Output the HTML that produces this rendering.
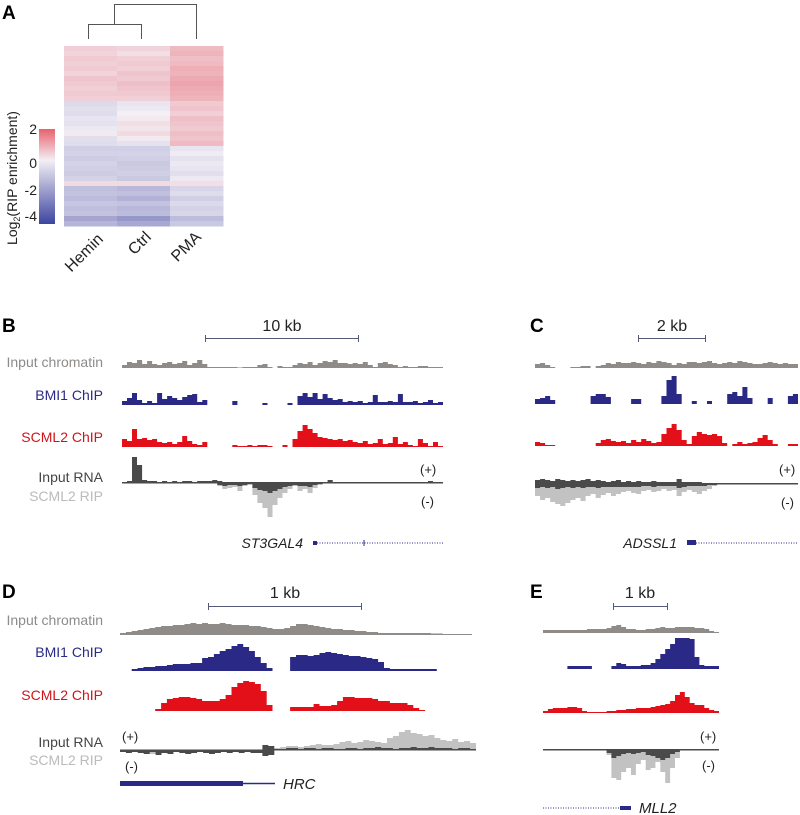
<!DOCTYPE html>
<html><head><meta charset="utf-8">
<style>
body{margin:0;background:#fff;}
svg{display:block;font-family:"Liberation Sans",Arial,sans-serif;}
</style></head>
<body>
<svg id="fig" width="800" height="815" viewBox="0 0 800 815">
<defs>
<linearGradient id="cbar" x1="0" y1="0" x2="0" y2="1">
<stop offset="0" stop-color="#e8616c"/><stop offset="0.33" stop-color="#f3eff5"/><stop offset="1" stop-color="#3d44a0"/>
</linearGradient>
</defs>
<g id="panelA">
<text x="2" y="19" font-size="19" font-weight="bold">A</text>
<g stroke="#555" stroke-width="1" fill="none">
<path d="M88.5 39 V24.5 H141.5 V39"/><path d="M114.5 24.5 V4.5 H196.5 V39"/>
</g>
<g id="heat"></g>
<rect x="39" y="129" width="16" height="95" fill="url(#cbar)"/>
<g font-size="14" fill="#222" text-anchor="end">
<text x="37" y="134">2</text><text x="37" y="168">0</text><text x="37" y="195">-2</text><text x="37" y="221">-4</text>
</g>
<text transform="translate(17,178) rotate(-90)" font-size="14" text-anchor="middle" fill="#222">Log<tspan font-size="9" dy="3">2</tspan><tspan dy="-3">(RIP enrichment)</tspan></text>
<g font-size="16" fill="#222" text-anchor="end">
<text transform="translate(104,240) rotate(-45)">Hemin</text>
<text transform="translate(152,238) rotate(-45)">Ctrl</text>
<text transform="translate(202,238) rotate(-45)">PMA</text>
</g>
</g>
<g id="tracks"></g>
<g font-size="19" font-weight="bold">
<text x="2" y="332">B</text><text x="530" y="332">C</text><text x="2" y="598">D</text><text x="530" y="598">E</text>
</g>
<g font-size="14" text-anchor="end">
<text x="103" y="367" fill="#8e8b89">Input chromatin</text>
<text x="103" y="400" fill="#2a2a86">BMI1 ChIP</text>
<text x="103" y="442" fill="#d0141c">SCML2 ChIP</text>
<text x="103" y="482" fill="#444">Input RNA</text>
<text x="103" y="501" fill="#bbb">SCML2 RIP</text>
</g>
<g font-size="14" text-anchor="end">
<text x="103" y="625" fill="#8e8b89">Input chromatin</text>
<text x="103" y="657" fill="#2a2a86">BMI1 ChIP</text>
<text x="103" y="700" fill="#d0141c">SCML2 ChIP</text>
<text x="103" y="747" fill="#444">Input RNA</text>
<text x="103" y="765" fill="#bbb">SCML2 RIP</text>
</g>
<g stroke="#555a7a" stroke-width="1">
<path d="M205 338.5H359M205.5 335v7M358.5 335v7"/>
<path d="M638 338.5H706M638.5 335v7M705.5 335v7"/>
<path d="M208 606.5H362M208.5 603v7M361.5 603v7"/>
<path d="M613 606.5H668M613.5 603v7M667.5 603v7"/>
</g>
<g font-size="16" text-anchor="middle" fill="#222">
<text x="282" y="331">10 kb</text><text x="672" y="331">2 kb</text><text x="285" y="598">1 kb</text><text x="640" y="598">1 kb</text>
</g>
<g font-size="13" fill="#222">
<text x="420" y="474">(+)</text><text x="421" y="506">(-)</text>
<text x="779" y="474">(+)</text><text x="781" y="507">(-)</text>
<text x="122" y="741">(+)</text><text x="125" y="771">(-)</text>
<text x="700" y="741">(+)</text><text x="702" y="770">(-)</text>
</g>
<g>
<text x="303" y="548" font-size="14" font-style="italic" text-anchor="end" fill="#222">ST3GAL4</text>
<rect x="313" y="541" width="4" height="4" fill="#2a2a86"/>
<line x1="317" y1="543" x2="443" y2="543" stroke="#2a2a86" stroke-width="1" stroke-dasharray="1,1.5"/>
<line x1="364" y1="540" x2="364" y2="546" stroke="#2a2a86"/>
<text x="677" y="548" font-size="14" font-style="italic" text-anchor="end" fill="#222">ADSSL1</text>
<rect x="687" y="540" width="9" height="5" fill="#2a2a86"/>
<line x1="696" y1="543" x2="798" y2="543" stroke="#2a2a86" stroke-width="1" stroke-dasharray="1,1.5"/>
<rect x="120" y="781" width="123" height="5" fill="#2a2a86"/>
<line x1="243" y1="783.5" x2="275" y2="783.5" stroke="#2a2a86" stroke-width="1.5"/>
<text x="283" y="789" font-size="15" font-style="italic" fill="#222">HRC</text>
<line x1="543" y1="808" x2="620" y2="808" stroke="#2a2a86" stroke-width="1" stroke-dasharray="1,1.5"/>
<rect x="620" y="806" width="11" height="4" fill="#2a2a86"/>
<text x="639" y="813" font-size="15" font-style="italic" fill="#222">MLL2</text>
</g>
</svg>
<script>
// ---- Heatmap data (log2 RIP enrichment, 36 rows) ----
const heatColumns = ["Hemin","Ctrl","PMA"];
const hemin = [0.6,0.5,0.7,0.6,0.7,0.5,0.8,0.7,0.6,0.7,0.6,-0.7,-0.5,-0.6,-0.3,-0.4,-0.2,0.1,-0.5,-0.6,-1.0,-0.9,-1.1,-0.9,-1.0,-1.1,-0.9,0.4,-1.5,-1.4,-1.6,-1.3,-1.5,-1.4,-2.3,-1.8];
const ctrl  = [0.5,0.3,0.6,0.7,0.6,0.8,0.7,0.9,0.8,0.7,0.6,-0.3,-0.2,0.0,0.1,0.3,0.2,0.4,0.1,-0.4,-1.0,-0.9,-1.0,-1.2,-1.1,-1.0,-1.2,0.4,-1.7,-1.5,-1.9,-1.4,-1.7,-1.6,-2.7,-2.2];
const pma   = [1.0,1.1,0.9,1.0,1.2,1.1,1.3,1.4,1.3,1.2,1.1,0.7,0.8,0.6,0.9,0.8,0.7,0.9,0.8,1.0,-0.3,-0.1,-0.4,-0.2,-0.3,-0.5,-0.2,0.3,-0.8,-0.6,-1.0,-0.7,-0.9,-0.8,-1.6,-1.2];

// ---- Panel B (64 bins) ----
const bInput = [3,6,5,8,4,7,4,3,5,6,4,5,7,3,5,8,4,1,1,1,1,1,1,0.5,1,1,1,3,4,1,null,2,1,1,3,5,4,6,3,5,7,6,8,5,5,4,5,4,6,3,1,5,6,4,3,1,2,1,1,2,2,1,1,1];
const bBmi1 = [4,7,12,5,2,4,2,12,6,9,7,5,8,10,11,3,5,null,null,null,null,null,4,null,null,null,null,null,2,null,null,null,null,2,null,9,12,8,12,6,11,7,5,6,3,4,3,4,2,3,10,3,3,4,3,11,3,3,4,2,3,5,2,3];
const bScml2 = [8,6,18,8,9,7,8,5,4,5,3,5,11,6,3,2,5,null,null,null,null,null,2,1,1,2,1,2,2,1,null,null,2,null,8,16,22,18,14,10,9,8,7,8,6,7,5,4,6,3,4,8,3,4,10,3,5,2,1,8,4,1,5,1];
const bRnaPlus = [1,2,26,18,3,2,2,1,2,1,2,1,2,2,1,2,2,2,3,2,1,1,1,1,1,1,1,1,1,1,1,1,1,1,1,1,1,1,1,1,1,3,1,1,1,1,1,1,1,1,1,1,1,1,1,1,1,1,1,1,1,2,1,1];
const bRipMinus = [0.5,0.5,0.5,0.5,0.5,0.5,0.5,0.5,0.5,0.5,0.5,0.5,0.5,0.5,0.5,0.5,0.5,0.5,0.5,3,6,5,4,8,3,2,12,20,25,34,22,15,10,6,3,8,6,10,5,2,0.5,0.5,0.5,0.5,0.5,0.5,0.5,0.5,0.5,0.5,0.5,0.5,0.5,0.5,0.5,0.5,0.5,0.5,0.5,0.5,0.5,0.5,0.5,0.5];
const bInputMinus = [0.5,0.5,0.5,0.5,0.5,0.5,0.5,0.5,0.5,0.5,0.5,0.5,0.5,0.5,0.5,0.5,0.5,0.5,0.5,2,3,2,2,3,2,1,5,7,8,10,8,6,4,3,2,3,3,4,2,1,0.5,0.5,0.5,0.5,0.5,0.5,0.5,0.5,0.5,0.5,0.5,0.5,0.5,0.5,0.5,0.5,0.5,0.5,0.5,0.5,0.5,0.5,0.5,0.5];

// ---- Panel C (52 bins) ----
const cInput = [4,5,3,1,null,null,null,1,1,2,2,null,2,3,5,4,6,5,5,6,5,4,6,5,7,6,5,3,5,4,6,6,5,6,7,5,4,5,6,5,7,6,5,4,4,5,6,5,4,5,4,4];
const cBmi1 = [5,6,8,4,null,null,null,null,null,null,null,8,10,10,7,null,null,null,null,5,5,null,null,null,null,8,24,28,10,null,null,3,null,null,3,null,null,null,10,12,8,17,6,null,null,null,6,null,null,null,8,10];
const cScml2 = [4,3,1,1,null,null,null,null,null,null,null,null,3,6,7,5,4,5,3,6,4,7,5,3,4,12,18,22,16,6,2,10,14,12,11,12,10,3,null,2,4,2,3,4,8,11,6,2,null,null,2,2];
const cRnaPlus = [4,5,4,3,5,4,3,4,3,4,5,3,4,3,2,3,4,2,3,2,3,2,2,3,2,2,2,2,5,2,2,2,2,1,1,1,1,1,1,1,1,1,1,1,1,1,1,1,1,1,1,1];
const cRipMinus = [12,16,14,18,20,22,19,16,14,17,12,10,14,11,9,12,10,8,7,9,10,7,6,8,7,5,7,6,12,8,6,8,10,7,5,2,0.5,0.5,0.5,0.5,0.5,0.5,0.5,0.5,0.5,0.5,0.5,0.5,0.5,0.5,0.5,0.5];
const cInputMinus = [4,3,4,3,5,4,3,4,3,4,3,3,4,3,3,3,3,3,3,3,3,2,2,3,2,2,2,2,4,3,2,2,2,2,1,1,0.5,0.5,0.5,0.5,0.5,0.5,0.5,0.5,0.5,0.5,0.5,0.5,0.5,0.5,0.5,0.5];

// ---- Panel D (60 bins) ----
const dInput = [2,3,4,5,6,7,8,9,9,10,10,11,12,11,12,11,11,12,11,10,10,10,9,9,8,7,6,6,7,9,11,11,10,9,8,7,6,6,5,5,4,4,3,3,2,2,2,2,2,2,2,2,2,1.5,1.5,1,1,1,1,1];
const dBmi1 = [null,null,2,3,4,4,5,5,6,7,7,7,8,8,13,14,17,20,22,25,27,24,20,14,8,3,null,null,null,14,16,16,15,16,18,19,18,17,16,15,15,14,13,12,9,3,2,2,2,2,2,2,2,2,null,null,null,null,null,null];
const dScml2 = [null,null,null,null,null,null,2,8,12,13,14,14,13,12,10,10,10,12,16,24,28,30,29,27,20,6,null,null,null,4,4,4,4,7,5,5,6,10,14,14,13,13,13,12,10,10,8,8,8,6,3,1,null,null,null,null,null,null,null,null];
const dRnaPlus = [0.5,0.5,0.5,0.5,0.5,0.5,0.5,0.5,0.5,0.5,0.5,0.5,0.5,0.5,0.5,0.5,0.5,0.5,0.5,0.5,0.5,0.5,0.5,0.5,5,4,1,1,2,2,1,2,2,1,2,2,1,1,2,2,1,2,2,3,2,2,1,2,2,3,2,2,3,2,2,2,1,2,2,1];
const dRipPlus = [0,0,0,0,0,0,0,0,0,0,0,0,0,0,0,0,0,0,0,0,0,0,0,0,0,0,2,3,4,4,3,4,5,6,5,5,6,8,9,7,8,10,9,8,7,12,14,18,20,17,16,14,15,12,10,9,11,8,9,7];
const dRipMinus = [0,0,1,2,3,4,3,2,1,0,0,0,0,0,0,0,0,0,0,0,0,0,0,0,0,0,0,0,0,0,0,0,0,0,0,0,0,0,0,0,0,0,0,0,0,0,0,0,0,0,0,0,0,0,0,0,0,0,0,0];
const dInputMinus = [2,3,2,3,4,2,5,3,4,2,3,4,3,2,3,4,3,2,3,2,3,2,3,3,6,5,0.5,0.5,0.5,0.5,0.5,0.5,0.5,0.5,0.5,0.5,0.5,0.5,0.5,0.5,0.5,0.5,0.5,0.5,0.5,0.5,0.5,0.5,0.5,0.5,0.5,0.5,0.5,0.5,0.5,0.5,0.5,0.5,0.5,0.5];

// ---- Panel E (36 bins) ----
const eInput = [3,3,3,3,3,3,3,3,3,4,4,4,4,5,7,8,6,4,4,3,3,4,4,5,6,5,5,6,6,6,6,5,5,4,2,1];
const eBmi1 = [null,null,null,null,null,3,3,3,3,3,null,null,null,null,3,6,5,3,3,3,4,4,6,10,15,20,25,31,31,31,30,12,4,3,3,3];
const eScml2 = [2,4,5,5,5,6,6,5,2,1,1,1,1,2,2,3,3,4,4,5,5,5,6,7,8,9,12,18,21,16,10,8,8,5,3,2];
const eRnaPlus = [1,1,1,1,1,1,1,1,1,1,1,1,1,1,1,1,1,1,1,1,1,1,1,1,1,1,1,1,1,1,1,1,1,1,1,1];
const eRipMinus = [0.5,0.5,0.5,0.5,0.5,0.5,0.5,0.5,0.5,0.5,0.5,0.5,0.5,5,28,30,22,18,25,14,10,20,18,12,22,33,18,8,0.5,0.5,0.5,0.5,0.5,0.5,0.5,0.5];
const eInputMinus = [0.5,0.5,0.5,0.5,0.5,0.5,0.5,0.5,0.5,0.5,0.5,0.5,0.5,3,8,6,4,3,4,3,2,5,6,8,10,8,4,2,0.5,0.5,0.5,0.5,0.5,0.5,0.5,0.5];

const NS = "http://www.w3.org/2000/svg";
function mk(tag, attrs, parent){const e=document.createElementNS(NS,tag);for(const k in attrs)e.setAttribute(k,attrs[k]);parent.appendChild(e);return e;}

// heatmap (muted palette)
function hex(c){return [parseInt(c.slice(1,3),16),parseInt(c.slice(3,5),16),parseInt(c.slice(5,7),16)];}
const cW=hex("#f3eff5"), cR=hex("#e8616c"), cB=hex("#3d44a0");
function colorScale(v){let t,b;if(v>=0){t=Math.min(v/2,1)*0.75;b=cR;}else{t=Math.min(-v/4,1)*0.75;b=cB;}
 return "rgb("+cW.map((x,i)=>Math.round(x+(b[i]-x)*t)).join(",")+")";}
const heatX0=64, heatX1=223, heatY0=46, heatY1=226;
const heatData=[hemin,ctrl,pma];
const colW=(heatX1-heatX0)/heatColumns.length, rowH=(heatY1-heatY0)/hemin.length;
const heatG=document.getElementById("heat");
heatData.forEach((col,ci)=>{col.forEach((v,ri)=>{
 const r=mk("rect",{x:heatX0+ci*colW,y:heatY0+ri*rowH,width:colW+0.5,height:rowH+0.5,fill:colorScale(v)},heatG);
 
 
});});

// tracks
const tracksG=document.getElementById("tracks");
function xScale(i,n,x0,x1){return x0+(x1-x0)*i/n;}
function yScale(v,base,sign){return base - sign*v;}
function drawTrack(vals,x0,x1,base,sign,color,name){
 const n=vals.length;let d="";let seg=null;
 for(let i=0;i<=n;i++){
  const v=i<n?vals[i]:null;
  if(v!==null&&v!==undefined){
   const xa=xScale(i,n,x0,x1), xb=xScale(i+1,n,x0,x1), y=yScale(v,base,sign);
   if(seg===null){seg="M"+xa.toFixed(1)+" "+base+"L"+xa.toFixed(1)+" "+y.toFixed(1);}
   else seg+="L"+xa.toFixed(1)+" "+y.toFixed(1);
   seg+="L"+xb.toFixed(1)+" "+y.toFixed(1);
   if(i===n-1||vals[i+1]===null||vals[i+1]===undefined){seg+="L"+xb.toFixed(1)+" "+base+"Z";d+=seg;seg=null;}
  }
 }
 const p=mk("path",{d:d,fill:color},tracksG);
 
 
}
const GRAY="#8e8b89",NAVY="#2a2a86",RED="#e3101a",DARK="#4a4a4a",LIGHT="#c2c2c2";
// B
drawTrack(bInput,122,443,368,1,GRAY,"b-input-chromatin");
drawTrack(bBmi1,122,443,405,1,NAVY,"b-bmi1-chip");
drawTrack(bScml2,122,443,447,1,RED,"b-scml2-chip");
drawTrack(bRipMinus,122,443,483,-1,LIGHT,"b-scml2-rip");
drawTrack(bInputMinus,122,443,483,-1,DARK,"b-input-rna-minus");
drawTrack(bRnaPlus,122,443,483,1,DARK,"b-input-rna-plus");
// C
drawTrack(cInput,535,798,368,1,GRAY,"c-input-chromatin");
drawTrack(cBmi1,535,798,404,1,NAVY,"c-bmi1-chip");
drawTrack(cScml2,535,798,446,1,RED,"c-scml2-chip");
drawTrack(cRipMinus,535,798,484,-1,LIGHT,"c-scml2-rip");
drawTrack(cInputMinus,535,798,484,-1,DARK,"c-input-rna-minus");
drawTrack(cRnaPlus,535,798,484,1,DARK,"c-input-rna-plus");
// D
drawTrack(dInput,120,472,635,1,GRAY,"d-input-chromatin");
drawTrack(dBmi1,120,472,671,1,NAVY,"d-bmi1-chip");
drawTrack(dScml2,120,472,711,1,RED,"d-scml2-chip");
drawTrack(dRipPlus,120,476,750,1,LIGHT,"d-scml2-rip-plus");
drawTrack(dRipMinus,120,476,750,-1,LIGHT,"d-scml2-rip-minus");
drawTrack(dInputMinus,120,476,750,-1,DARK,"d-input-rna-minus");
drawTrack(dRnaPlus,120,476,750,1,DARK,"d-input-rna-plus");
// E
drawTrack(eInput,543,719,633,1,GRAY,"e-input-chromatin");
drawTrack(eBmi1,543,719,669,1,NAVY,"e-bmi1-chip");
drawTrack(eScml2,543,719,713,1,RED,"e-scml2-chip");
drawTrack(eRipMinus,543,719,750,-1,LIGHT,"e-scml2-rip");
drawTrack(eInputMinus,543,719,750,-1,DARK,"e-input-rna-minus");
drawTrack(eRnaPlus,543,719,750,1,DARK,"e-input-rna-plus");
</script>
</body></html>
